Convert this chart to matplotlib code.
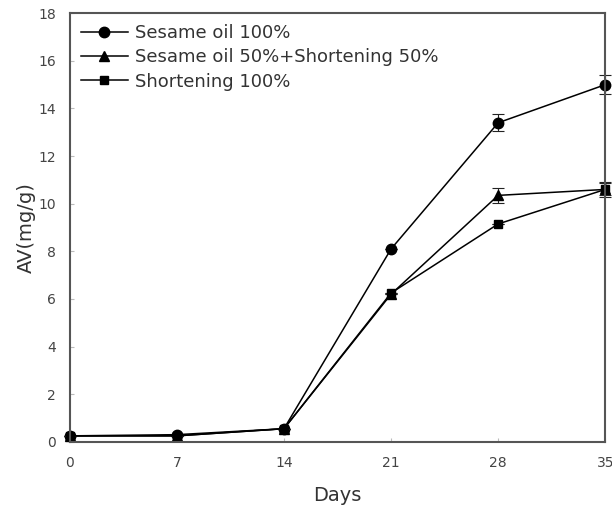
import matplotlib
matplotlib.use("Agg")
import matplotlib.pyplot as plt

# data
days = [0, 7, 14, 21, 28, 35]
sesame = [0.25, 0.3, 0.55, 8.1, 13.4, 15.0]
sesame_err = [0, 0, 0, 0, 0.35, 0.4]
blend = [0.25, 0.25, 0.55, 6.2, 10.35, 10.6]
blend_err = [0, 0, 0, 0, 0.3, 0.3]
shortening = [0.25, 0.25, 0.55, 6.25, 9.15, 10.6]
shortening_err = [0, 0, 0, 0, 0, 0.25]

labels = ["Sesame oil 100%", "Sesame oil 50%+Shortening 50%", "Shortening 100%"]

fig = plt.figure(figsize=(6.12, 5.09), dpi=100)
ax = fig.add_axes([0.114, 0.132, 0.875, 0.842])

series = [(sesame, sesame_err, "o", 7.5), (blend, blend_err, "^", 7), (shortening, shortening_err, "s", 6)]
for (vals, err, mk, ms), lab in zip(series, labels):
    ax.errorbar(days, vals, yerr=err, fmt="none", ecolor="#222222", capsize=4,
                elinewidth=0.8, capthick=0.8, clip_on=False)
    ax.plot(days, vals, color="black", marker=mk, ms=ms, lw=1.1, label=lab, clip_on=False)

ax.set_xlim(0, 35)
ax.set_ylim(0, 18)
ax.set_xticks(days)
ax.set_yticks(range(0, 19, 2))
ax.tick_params(direction="in", length=3, colors="#bbbbbb", labelcolor="#444444",
               labelsize=10, pad=10)
for s in ax.spines.values():
    s.set_color("#555555")
    s.set_linewidth(1.5)

ax.set_xlabel("Days", fontsize=14, color="#333333", labelpad=12)
ax.set_ylabel("AV(mg/g)", fontsize=14, color="#333333", labelpad=2)

leg = ax.legend(loc="upper left", frameon=False, fontsize=13, handlelength=2.6,
                handletextpad=0.4, borderaxespad=0.3, labelspacing=0.35,
                borderpad=0.3)
for t in leg.get_texts():
    t.set_color("#333333")

plt.savefig("out.png", dpi=100)
